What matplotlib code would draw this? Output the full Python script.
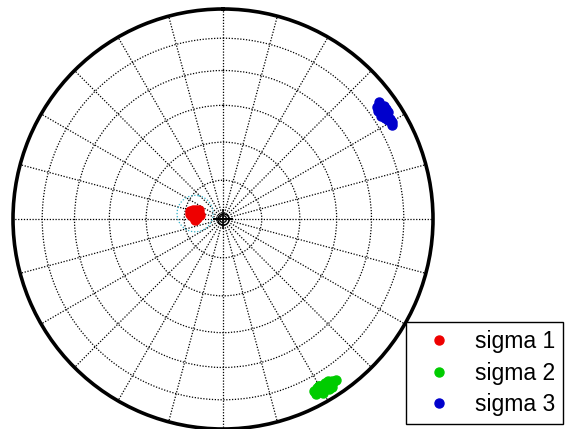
import numpy as np
import matplotlib
matplotlib.use('Agg')
import matplotlib.pyplot as plt

plt.rcParams['font.family'] = ['Liberation Sans', 'DejaVu Sans']

# principal stress axes, trend / plunge in degrees (lower hemisphere)
sigma1_trend = [276, 280, 284, 272, 288, 279, 283, 275, 281, 286, 270, 278, 290, 268]
sigma1_plunge = [79, 78, 80, 80, 79, 81, 77, 78, 80, 78, 79, 77, 80, 79]
sigma2_trend = [146, 147, 148, 149, 150, 151, 152, 147, 149, 148, 146, 150, 151, 145, 150, 152]
sigma2_plunge = [7, 9, 5, 7, 9, 7, 6, 5, 8, 9, 8, 5, 9, 7, 9, 8]
sigma3_trend = [54, 55, 56, 57, 58, 59, 60, 61, 55, 57, 59, 56, 54, 58, 53, 55]
sigma3_plunge = [9, 11, 8, 7, 10, 9, 8, 9, 10, 11, 8, 7, 10, 9, 8, 7]
labels = ['sigma 1', 'sigma 2', 'sigma 3']
colors = ['#ee0000', '#00cc00', '#0000cc']

# confidence cone around sigma 1 (axis trend, plunge, half angle)
cone_axis = (281, 79)
cone_angle = 7.0


def eq_area_r(plunge):
    # Schmidt net radius for a line with given plunge
    theta = np.radians(90 - np.asarray(plunge, dtype=float))
    return np.sqrt(2) * np.sin(theta / 2)


def small_circle(trend, plunge, half):
    t, p = np.radians(trend), np.radians(plunge)
    axis = np.array([np.cos(p) * np.sin(t), np.cos(p) * np.cos(t), -np.sin(p)])
    a = np.cross(axis, [0, 0, 1.0])
    a /= np.linalg.norm(a)
    b = np.cross(axis, a)
    ang = np.linspace(0, 2 * np.pi, 90)
    h = np.radians(half)
    v = (np.cos(h) * axis[:, None] + np.sin(h) * (np.cos(ang) * a[:, None] + np.sin(ang) * b[:, None]))
    tr = np.degrees(np.arctan2(v[0], v[1])) % 360
    pl = np.degrees(np.arcsin(-v[2]))
    return tr, pl


fig = plt.figure(figsize=(5.66, 4.29), dpi=100)
ax = fig.add_axes([13 / 566, 0, 420 / 566, 420 / 429], projection='polar')
ax.set_theta_zero_location('N')
ax.set_theta_direction(-1)
ax.set_ylim(0, 1)

ax.set_rgrids(eq_area_r([75, 60, 45, 30, 15]), labels=[])
ax.set_thetagrids(np.arange(0, 360, 15), labels=[])
ax.grid(True, color='k', linestyle=(0, (1, 1.3)), linewidth=0.9)
ax.spines['polar'].set_linewidth(2.6)
ax.spines['polar'].set_color('k')

ct, cp = small_circle(cone_axis[0], cone_axis[1], cone_angle)
ax.plot(np.radians(ct), eq_area_r(cp), color='#30b0c8', linestyle=(0, (1, 1.5)), lw=0.9)

handles = []
for tr, pl, c, lab in zip([sigma1_trend, sigma2_trend, sigma3_trend],
                          [sigma1_plunge, sigma2_plunge, sigma3_plunge], colors, labels):
    h, = ax.plot(np.radians(tr), eq_area_r(pl), 'o', color=c, ms=6.5, mec=c, label=lab)
    handles.append(h)

# centre mark
ax.plot(0, 0, 'o', mfc='none', mec='k', ms=8, mew=1.0)
ax.plot(0, 0, '+', color='k', ms=15, mew=1.2)

leg = fig.legend(handles=handles, loc='lower right', bbox_to_anchor=(0.995, 0.012),
                 borderaxespad=0, fontsize=16.5, markerscale=1.0, fancybox=False,
                 edgecolor='k', framealpha=1, borderpad=0.35, labelspacing=0.36,
                 handlelength=2.2, handletextpad=0.45)
leg.get_frame().set_linewidth(1.0)

fig.savefig('out.png', dpi=100, facecolor='white')
